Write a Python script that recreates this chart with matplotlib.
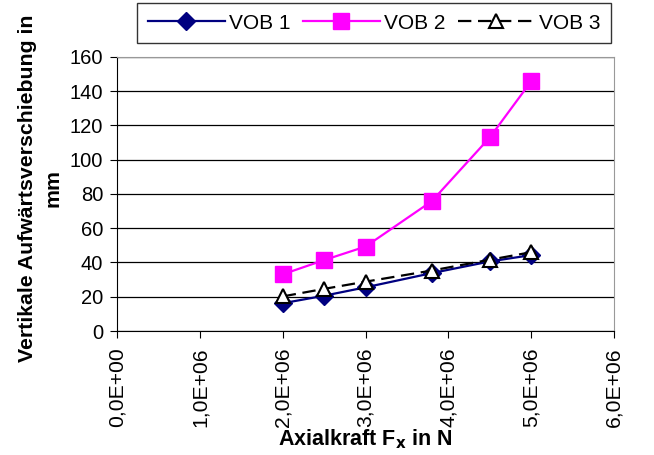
import matplotlib.pyplot as plt
from matplotlib.ticker import FuncFormatter, MultipleLocator

plt.rcParams['font.family'] = ['Liberation Sans', 'DejaVu Sans']

# Axialkraft in N
kraft = [2.0e6, 2.5e6, 3.0e6, 3.8e6, 4.5e6, 5.0e6]

# vertikale Aufwaertsverschiebung in mm
vob1 = [16.2, 20.6, 25.5, 33.8, 40.6, 44.3]
vob2 = [33.1, 41.4, 49.3, 75.8, 113.0, 145.8]
vob3 = [20.2, 24.6, 28.8, 35.3, 41.6, 46.0]

fig = plt.figure(figsize=(6.54, 4.55), dpi=100)
ax = fig.add_axes([0.179, 0.2725, 0.76, 0.6025])

ax.plot(kraft, vob1, color='#000080', lw=1.6, marker='D', ms=9,
        mfc='#000080', mec='#000080', label='VOB 1', zorder=3)
ax.plot(kraft, vob2, color='#ff00ff', lw=1.6, marker='s', ms=11,
        mfc='#ff00ff', mec='#ff00ff', label='VOB 2', zorder=3)
ax.plot(kraft, vob3, color='black', lw=1.6, ls=(0, (6, 3)), marker='^', ms=10,
        mfc='white', mec='black', mew=1.5, label='VOB 3', zorder=4)

ax.set_xlim(0, 6e6)
ax.set_ylim(0, 160)
ax.xaxis.set_major_locator(MultipleLocator(1e6))
ax.yaxis.set_major_locator(MultipleLocator(20))


def sci_komma(v, pos):
    s = f"{v:.1E}".replace('.', ',')
    mant, exp = s.split('E')
    return f"{mant}E{exp[0]}{int(exp[1:]):02d}"


ax.xaxis.set_major_formatter(FuncFormatter(sci_komma))
ax.tick_params(axis='x', labelrotation=90, labelsize=15.2, direction='out', length=5,
               color='black', pad=7)
ax.tick_params(axis='y', labelsize=14.5, direction='out', length=5, color='black', pad=5)

ax.grid(axis='y', color='black', lw=0.9)
ax.set_axisbelow(True)
for side in ('top', 'right'):
    ax.spines[side].set_color('#999999')
for side in ('left', 'bottom'):
    ax.spines[side].set_color('black')

ax.set_xlabel('Axialkraft F$_\\mathbf{x}$ in N', fontsize=15.5, fontweight='bold', labelpad=0)
ax.set_ylabel('Vertikale Aufwärtsverschiebung in\nmm', fontsize=15.3, fontweight='bold',
              linespacing=1.45)
ax.yaxis.set_label_coords(-0.11, 0.52)

leg = fig.legend(loc='upper center', bbox_to_anchor=(0.572, 0.993), ncol=3, fontsize=15,
                 frameon=True, fancybox=False, edgecolor='black', handlelength=3.7,
                 columnspacing=0.6, handletextpad=0.2, borderpad=0.5, borderaxespad=0)
leg.get_frame().set_linewidth(1.0)

fig.savefig('out.png', dpi=100)
